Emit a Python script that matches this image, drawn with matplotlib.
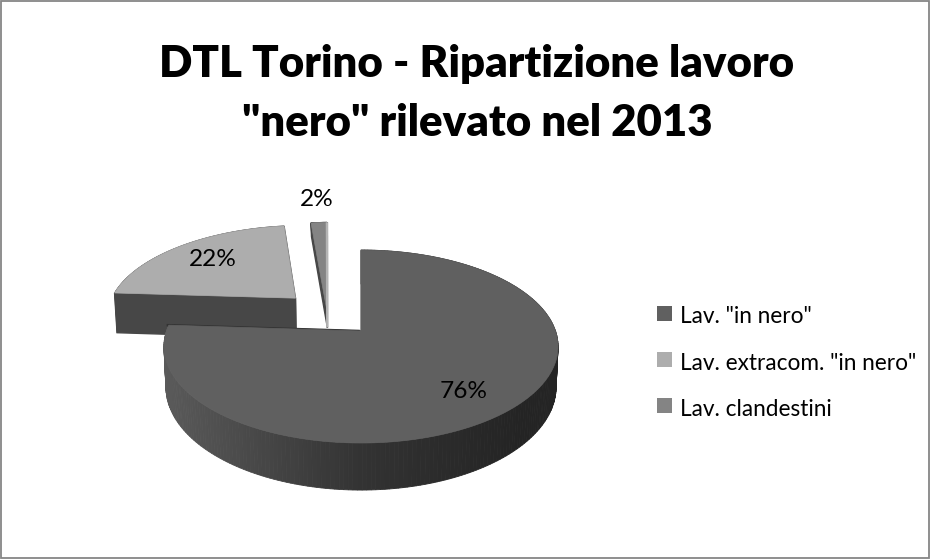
import numpy as np
import matplotlib
matplotlib.use("Agg")
import matplotlib.pyplot as plt
from matplotlib.patches import Polygon, Rectangle

categories = ['Lav. "in nero"', 'Lav. extracom. "in nero"', 'Lav. clandestini']
values = [76, 22, 2]
labels = ['76%', '22%', '2%']
title_lines = ['DTL Torino - Ripartizione lavoro', '"nero" rilevato nel 2013']

top_colors = ['#606060', '#adadad', '#848484']
offsets = [(0.0, 0.0), (-0.357, 0.37), (-0.181, 0.22)]
radii = [1.0, 1.0, 1.2]
depths = [39.5, 42.5, 17.0]
width_scale = [1.0, 1.0, 0.67]

plt.rcParams['font.family'] = ['Lato', 'DejaVu Sans']
fig = plt.figure(figsize=(9.30, 5.59), dpi=100)

# slice angles come from the library's pie layout
geom = fig.add_axes([0, 0, 0.1, 0.1])
wedges, _ = geom.pie(values, startangle=90, counterclock=False)
spans = [(w.theta1, w.theta2) for w in wedges]
geom.remove()

ax = fig.add_axes([0, 0, 1, 1])
ax.set_xlim(0, 930)
ax.set_ylim(559, 0)
ax.axis('off')

CX, CY, A, B, K, S = 361.0, 331.0, 194.5, 94.0, 0.1607, 0.99


def project(u, v, i):
    w = 1 + K * v
    y = CY - B * v / w
    if width_scale[i] == 1.0:
        return CX + A * u / w, y
    # narrow far-flung slice: its own apex stays the vertical reference
    ou, ov = offsets[i]
    return CX + A * ou / (1 + K * ov) + width_scale[i] * A * (u - ou) / w, y


def lower(u, v, i):
    x, y = project(u, v, i)
    return CX + (x - CX) * S, y + depths[i] / (1 + K * v)


def outline(span, off, r):
    t = np.radians(np.linspace(span[0], span[1], 240))
    u = np.r_[off[0], off[0] + r * np.cos(t)]
    v = np.r_[off[1], off[1] + r * np.sin(t)]
    return u, v


def shade(x):
    g = np.interp(x, [165, 360, 520, 560], [0x5a, 0x33, 0x24, 0x24]) / 255
    return (g, g, g)


def draw_slice(i):
    z = 2 - i * 0.5
    u, v = outline(spans[i], offsets[i], radii[i])
    x, y = project(u, v, i)
    xb, yb = lower(u, v, i)
    # arc wall
    for j in range(1, len(u) - 1):
        c = shade((x[j] + x[j + 1]) / 2)
        ax.add_patch(Polygon([(x[j], y[j]), (x[j + 1], y[j + 1]), (xb[j + 1], yb[j + 1]), (xb[j], yb[j])],
                             closed=True, fc=c, ec=c, lw=0.6, zorder=z))
    # radial walls
    for j in (1, len(u) - 1):
        ax.add_patch(Polygon([(x[0], y[0]), (x[j], y[j]), (xb[j], yb[j]), (xb[0], yb[0])],
                             closed=True, fc='#474747', ec='#474747', lw=1.0, zorder=z))
    if i == 0:
        # dark sliver of the wall along the vertical cut
        ax.plot([x[0] - 1.2, x[1] - 2.2], [y[0], y[1]], color='#333333', lw=1.8,
                solid_capstyle='butt', zorder=z)
    ax.add_patch(Polygon(np.c_[x, y], closed=True, fc=top_colors[i], ec=top_colors[i], lw=0.5,
                         zorder=z + 0.1))
    if i == 2:
        # lit right-hand wall of the thin slice
        k = int(np.argmax(x[1:])) + 1
        ax.plot([x[k], xb[0]], [y[k], yb[0]], color='#b4b4b4', lw=1.8,
                solid_capstyle='butt', zorder=z + 0.2)


for i in (2, 1, 0):
    draw_slice(i)

# border
ax.add_patch(Rectangle((0.5, 0.5), 928.5, 557.5, fc='none', ec='#868686', lw=1.3, zorder=1))

for line, by in zip(title_lines, [77, 136]):
    ax.text(477, by, line, ha='center', va='baseline', fontsize=31.5, fontweight='heavy',
            color='black', zorder=5)

label_pos = [(464, 392), (213, 260), (317, 200)]
for s, (lx, ly) in zip(labels, label_pos):
    ax.text(lx, ly, s, ha='center', va='center', fontsize=17.6, color='black', zorder=5)

legend_rows = [313.5, 359, 405]
legend_base = [323, 370, 416]
for name, col, ly, by in zip(categories, top_colors, legend_rows, legend_base):
    ax.add_patch(Rectangle((657, ly - 7.5), 15, 15, fc=col, ec='none', zorder=5))
    ax.text(680, by, name, ha='left', va='baseline', fontsize=16.3, color='black', zorder=5)

fig.savefig('out.png', dpi=100)
